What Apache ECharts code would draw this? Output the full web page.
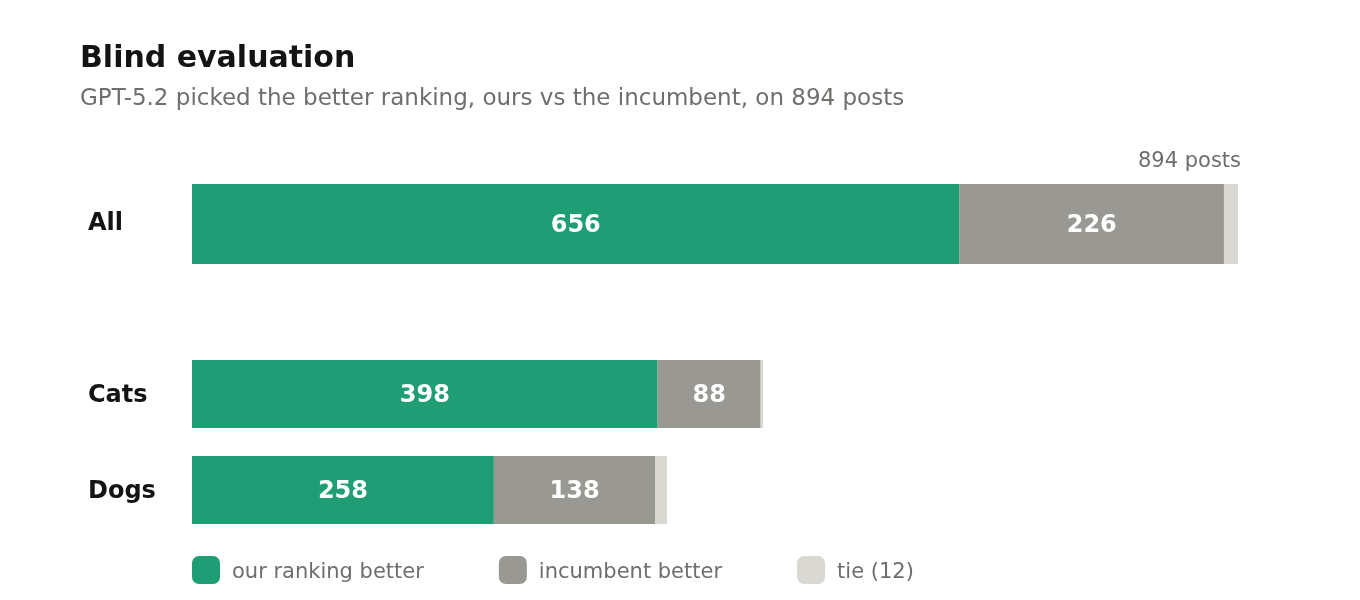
<!DOCTYPE html>
<html>
<head>
<meta charset="utf-8">
<script src="https://cdn.jsdelivr.net/npm/echarts@6/dist/echarts.min.js"></script>
<style>html,body{margin:0;padding:0;background:#fff}#c{width:1360px;height:600px}</style>
</head>
<body>
<div id="c"></div>
<script>
const topCategories = ['All'];
const petCategories = ['Cats', 'Dogs'];
const ours = [656, 398, 258];
const incumbent = [226, 88, 138];
const tie = [12, 2, 10];
const totalPosts = 894;
const seriesNames = ['our ranking better', 'incumbent better', 'tie (12)'];

const COLORS = ['#1f9e75', '#9a9893', '#d9d8d2'];
const FONT = 'DejaVu Sans';
const values = [ours, incumbent, tie];

const series = [];
[0, 1].forEach(function (g) {
  const slice = g === 0 ? [0, 1] : [1, 3];
  values.forEach(function (arr, i) {
    series.push({
      type: 'bar',
      name: seriesNames[i],
      xAxisIndex: g,
      yAxisIndex: g,
      stack: 'g' + g,
      barWidth: g === 0 ? 80 : 68,
      data: arr.slice(slice[0], slice[1]),
      itemStyle: { color: COLORS[i] },
      label: {
        show: i < 2,
        position: 'inside',
        offset: [0, 2],
        color: '#ffffff',
        fontFamily: FONT,
        fontWeight: 'bold',
        fontSize: 24
      },
      emphasis: { disabled: true },
      animation: false
    });
  });
});

function yAxisFor(cats, gi, pad) {
  return {
    type: 'category',
    gridIndex: gi,
    data: cats,
    inverse: true,
    axisLine: { show: false },
    axisTick: { show: false },
    axisLabel: {
      align: 'left',
      margin: 104,
      formatter: '{t|{value}}',
      color: '#141414',
      fontFamily: FONT,
      fontWeight: 'bold',
      fontSize: 24,
      rich: {
        t: { fontFamily: FONT, fontWeight: 'bold', fontSize: 24, color: '#141414', padding: pad }
      }
    }
  };
}

function xAxisFor(gi) {
  return { type: 'value', gridIndex: gi, min: 0, max: totalPosts, show: false };
}

const chart = echarts.init(document.getElementById('c'));
chart.setOption({
  backgroundColor: '#ffffff',
  animation: false,
  title: {
    text: 'Blind evaluation',
    subtext: 'GPT-5.2 picked the better ranking, ours vs the incumbent, on ' + totalPosts + ' posts',
    left: 80,
    top: 44,
    padding: 0,
    itemGap: 14,
    textStyle: { fontFamily: FONT, fontWeight: 'bold', fontSize: 30, color: '#141414' },
    subtextStyle: { fontFamily: FONT, fontSize: 23, color: '#6e6e6b' }
  },
  grid: [
    { left: 192, width: 1046, top: 184, height: 80 },
    { left: 192, width: 1046, top: 346, height: 192 }
  ],
  xAxis: [xAxisFor(0), xAxisFor(1)],
  yAxis: [yAxisFor(topCategories, 0, [0, 0, 0, 0]), yAxisFor(petCategories, 1, [4, 0, 0, 0])],
  legend: {
    data: seriesNames,
    left: 192,
    top: 556,
    padding: 0,
    itemWidth: 28,
    itemHeight: 28,
    itemGap: 75,
    icon: 'roundRect',
    selectedMode: false,
    formatter: '{t|{name}}',
    textStyle: {
      fontFamily: FONT, fontSize: 21, color: '#6e6e6b', padding: [0, 0, 0, 7],
      rich: { t: { fontFamily: FONT, fontSize: 21, color: '#6e6e6b', padding: [6, 0, 0, 0] } }
    }
  },
  graphic: [{
    type: 'text',
    x: 1241,
    y: 162,
    style: {
      text: totalPosts + ' posts',
      fontFamily: FONT,
      fontSize: 21,
      fill: '#6e6e6b',
      textAlign: 'right',
      textVerticalAlign: 'middle'
    }
  }],
  series: series
});
</script>
</body>
</html>
